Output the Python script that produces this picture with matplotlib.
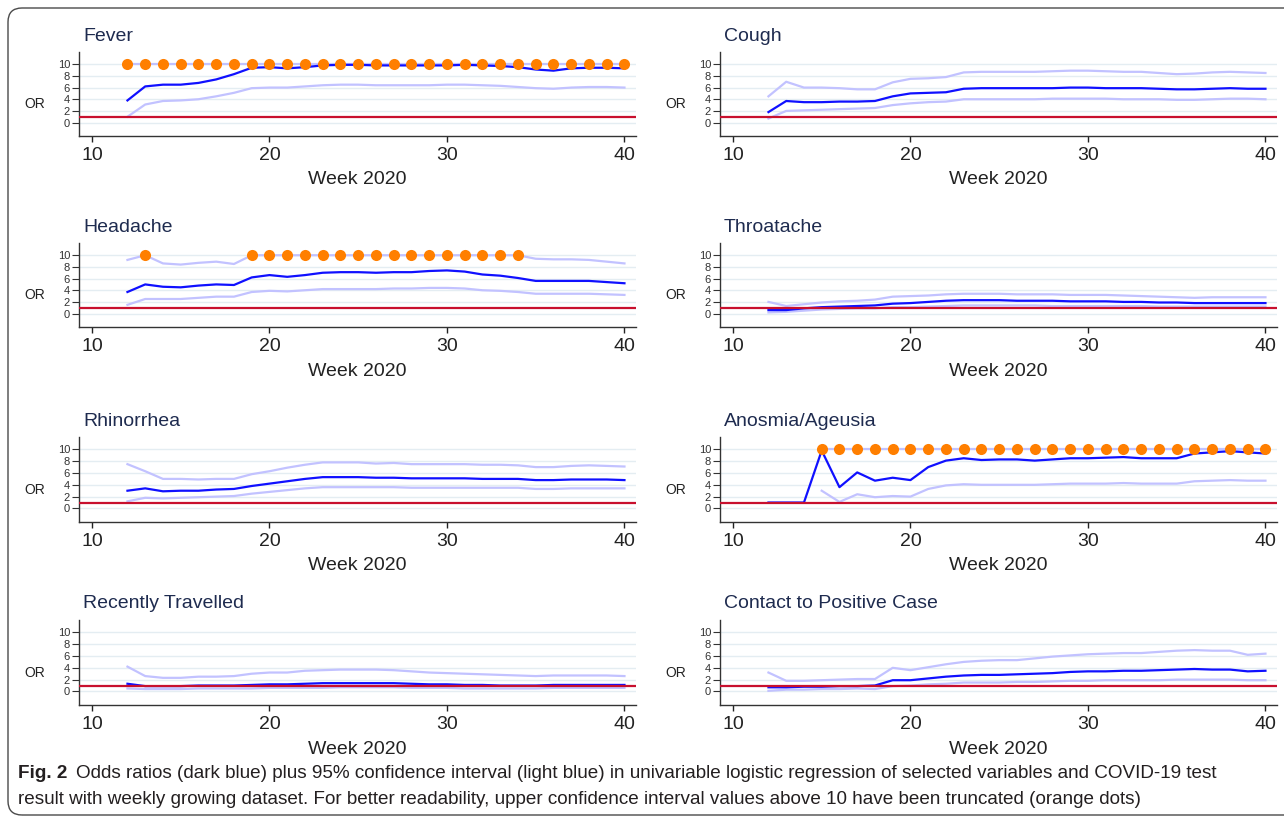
import numpy as np
import matplotlib
matplotlib.use("Agg")
import matplotlib.pyplot as plt
from matplotlib.patches import FancyBboxPatch

plt.rcParams["font.family"] = ["Liberation Sans", "DejaVu Sans"]

# ---------------------------
# data, weeks 12..40
# ---------------------------
weeks = list(range(12, 41))

fever_or = [3.8, 6.2, 6.5, 6.5, 6.8, 7.4, 8.3, 9.4, 9.5, 9.3, 9.5, 9.8, 9.9, 9.9, 9.8,
            9.8, 9.8, 9.8, 9.8, 9.9, 9.8, 9.7, 9.5, 9.1, 8.9, 9.3, 9.4, 9.4, 9.3]
fever_lo = [1.0, 3.1, 3.7, 3.8, 4.0, 4.5, 5.1, 5.9, 6.0, 6.0, 6.2, 6.4, 6.5, 6.5, 6.4,
            6.4, 6.4, 6.4, 6.5, 6.5, 6.4, 6.3, 6.1, 5.9, 5.8, 6.0, 6.1, 6.1, 6.0]
fever_hi = [10.0] * 29
fever_trunc = list(range(12, 41))

cough_or = [1.8, 3.7, 3.5, 3.5, 3.6, 3.6, 3.7, 4.5, 5.0, 5.1, 5.2, 5.8, 5.9, 5.9, 5.9,
            5.9, 5.9, 6.0, 6.0, 5.9, 5.9, 5.9, 5.8, 5.7, 5.7, 5.8, 5.9, 5.8, 5.8]
cough_lo = [0.7, 2.0, 2.1, 2.2, 2.3, 2.4, 2.5, 3.0, 3.3, 3.5, 3.6, 4.0, 4.0, 4.0, 4.0,
            4.0, 4.1, 4.1, 4.1, 4.1, 4.0, 4.0, 4.0, 3.9, 3.9, 4.0, 4.1, 4.1, 4.0]
cough_hi = [4.5, 7.0, 6.0, 6.0, 5.9, 5.7, 5.7, 6.9, 7.5, 7.6, 7.8, 8.6, 8.7, 8.7, 8.7,
            8.7, 8.8, 8.9, 8.9, 8.8, 8.7, 8.7, 8.5, 8.3, 8.4, 8.6, 8.7, 8.6, 8.5]
cough_trunc = []

headache_or = [3.7, 5.0, 4.6, 4.5, 4.8, 5.0, 4.9, 6.2, 6.6, 6.3, 6.6, 7.0, 7.1, 7.1, 7.0,
               7.1, 7.1, 7.3, 7.4, 7.2, 6.7, 6.5, 6.1, 5.6, 5.6, 5.6, 5.6, 5.4, 5.2]
headache_lo = [1.5, 2.5, 2.5, 2.5, 2.7, 2.9, 2.9, 3.7, 3.9, 3.8, 4.0, 4.2, 4.2, 4.2, 4.2,
               4.3, 4.3, 4.4, 4.4, 4.3, 4.0, 3.9, 3.7, 3.4, 3.4, 3.4, 3.4, 3.3, 3.2]
headache_hi = [9.2, 10.0, 8.6, 8.4, 8.7, 8.9, 8.5, 10.0, 10.0, 10.0, 10.0, 10.0, 10.0, 10.0, 10.0,
               10.0, 10.0, 10.0, 10.0, 10.0, 10.0, 10.0, 10.0, 9.4, 9.3, 9.3, 9.2, 8.9, 8.6]
headache_trunc = [13] + list(range(19, 35))

throat_or = [0.6, 0.6, 0.9, 1.1, 1.2, 1.3, 1.4, 1.7, 1.8, 2.0, 2.2, 2.3, 2.3, 2.3, 2.2,
             2.2, 2.2, 2.1, 2.1, 2.1, 2.0, 2.0, 1.9, 1.9, 1.8, 1.8, 1.8, 1.8, 1.8]
throat_lo = [0.2, 0.3, 0.5, 0.7, 0.8, 0.9, 0.9, 1.1, 1.1, 1.2, 1.3, 1.4, 1.4, 1.4, 1.4,
             1.4, 1.3, 1.3, 1.3, 1.3, 1.3, 1.3, 1.2, 1.2, 1.2, 1.2, 1.2, 1.2, 1.2]
throat_hi = [2.0, 1.3, 1.6, 1.9, 2.1, 2.2, 2.4, 2.9, 3.0, 3.1, 3.3, 3.4, 3.4, 3.4, 3.3,
             3.3, 3.3, 3.2, 3.2, 3.2, 3.1, 3.0, 2.9, 2.8, 2.7, 2.8, 2.8, 2.8, 2.8]
throat_trunc = []

rhino_or = [3.0, 3.4, 2.9, 3.0, 3.0, 3.2, 3.3, 3.8, 4.2, 4.6, 5.0, 5.3, 5.3, 5.3, 5.2,
            5.2, 5.1, 5.1, 5.1, 5.1, 5.0, 5.0, 5.0, 4.8, 4.8, 4.9, 4.9, 4.9, 4.8]
rhino_lo = [1.2, 1.8, 1.7, 1.8, 1.9, 2.0, 2.1, 2.5, 2.8, 3.1, 3.4, 3.6, 3.6, 3.6, 3.6,
            3.6, 3.5, 3.5, 3.5, 3.5, 3.5, 3.5, 3.5, 3.3, 3.3, 3.4, 3.4, 3.4, 3.4]
rhino_hi = [7.5, 6.3, 5.0, 5.0, 4.9, 5.0, 5.0, 5.8, 6.3, 6.9, 7.4, 7.8, 7.8, 7.8, 7.6,
            7.7, 7.5, 7.5, 7.5, 7.5, 7.4, 7.4, 7.3, 7.0, 7.0, 7.2, 7.3, 7.2, 7.1]
rhino_trunc = []

anos_or = [1.0, 1.0, 1.0, 9.8, 3.6, 6.1, 4.7, 5.2, 4.8, 7.0, 8.1, 8.5, 8.2, 8.3, 8.3,
           8.1, 8.3, 8.5, 8.5, 8.6, 8.7, 8.5, 8.5, 8.5, 9.3, 9.5, 9.7, 9.5, 9.3]
anos_lo = [np.nan, np.nan, np.nan, 3.0, 1.1, 2.4, 1.9, 2.1, 2.0, 3.3, 3.9, 4.1, 4.0, 4.0, 4.0,
           4.0, 4.1, 4.2, 4.2, 4.2, 4.3, 4.2, 4.2, 4.2, 4.6, 4.7, 4.8, 4.7, 4.7]
anos_hi = [np.nan, np.nan, np.nan] + [10.0] * 26
anos_trunc = list(range(15, 41))

travel_or = [1.3, 0.9, 0.9, 0.9, 1.0, 1.0, 1.0, 1.1, 1.2, 1.2, 1.3, 1.4, 1.4, 1.4, 1.4,
             1.4, 1.3, 1.2, 1.2, 1.1, 1.1, 1.0, 1.0, 1.0, 1.1, 1.1, 1.1, 1.1, 1.1]
travel_lo = [0.5, 0.4, 0.4, 0.4, 0.5, 0.5, 0.5, 0.5, 0.6, 0.6, 0.6, 0.6, 0.7, 0.7, 0.7,
             0.7, 0.6, 0.6, 0.6, 0.5, 0.5, 0.5, 0.5, 0.5, 0.6, 0.6, 0.6, 0.6, 0.6]
travel_hi = [4.2, 2.6, 2.3, 2.3, 2.5, 2.5, 2.6, 3.0, 3.2, 3.2, 3.5, 3.6, 3.7, 3.7, 3.7,
             3.6, 3.4, 3.2, 3.1, 3.0, 2.9, 2.8, 2.7, 2.6, 2.7, 2.7, 2.7, 2.7, 2.6]
travel_trunc = []

contact_or = [0.7, 0.7, 0.8, 0.8, 0.9, 0.9, 1.0, 1.9, 1.9, 2.2, 2.5, 2.7, 2.8, 2.8, 2.9,
              3.0, 3.1, 3.3, 3.4, 3.4, 3.5, 3.5, 3.6, 3.7, 3.8, 3.7, 3.7, 3.4, 3.5]
contact_lo = [0.1, 0.3, 0.3, 0.4, 0.4, 0.5, 0.4, 0.9, 1.0, 1.2, 1.3, 1.5, 1.5, 1.5, 1.6,
              1.6, 1.7, 1.8, 1.8, 1.9, 1.9, 1.9, 1.9, 2.0, 2.0, 2.0, 2.0, 1.9, 1.9]
contact_hi = [3.2, 1.8, 1.8, 1.9, 2.0, 2.1, 2.1, 4.0, 3.6, 4.1, 4.6, 5.0, 5.2, 5.3, 5.3,
              5.6, 5.9, 6.1, 6.3, 6.4, 6.5, 6.5, 6.7, 6.9, 7.0, 6.9, 6.9, 6.2, 6.4]
contact_trunc = []

titles = ["Fever", "Cough", "Headache", "Throatache",
          "Rhinorrhea", "Anosmia/Ageusia", "Recently Travelled", "Contact to Positive Case"]
panels = [
    (fever_or, fever_lo, fever_hi, fever_trunc),
    (cough_or, cough_lo, cough_hi, cough_trunc),
    (headache_or, headache_lo, headache_hi, headache_trunc),
    (throat_or, throat_lo, throat_hi, throat_trunc),
    (rhino_or, rhino_lo, rhino_hi, rhino_trunc),
    (anos_or, anos_lo, anos_hi, anos_trunc),
    (travel_or, travel_lo, travel_hi, travel_trunc),
    (contact_or, contact_lo, contact_hi, contact_trunc),
]

# ---------------------------
# layout (pixels)
# ---------------------------
W, H = 1284, 823
col_left = [79, 720]
col_width = 557
row_top = [52, 243, 437, 620]
row_bot = [136, 327, 522, 705]

C_OR = "#1010ff"
C_CI = "#c2c2ff"
C_RED = "#c8102e"
C_DOT = "#ff7f00"
C_GRID = "#e4edf2"
C_TITLE = "#1e2b4f"

fig = plt.figure(figsize=(W / 100, H / 100), dpi=100)

frame = FancyBboxPatch((8, 8), 1300, 807, boxstyle="round,pad=0,rounding_size=14",
                       transform=None, facecolor="none", edgecolor="#4a4a4a", linewidth=1.0)
fig.patches.append(frame)

for k, (title, (orv, lo, hi, trunc)) in enumerate(zip(titles, panels)):
    r, c = divmod(k, 2)
    h_px = row_bot[r] - row_top[r]
    ax = fig.add_axes([col_left[c] / W, 1 - row_bot[r] / H, col_width / W, h_px / H])

    ax.set_xlim(9.27, 40.65)
    ax.set_ylim(-2.3, 12.1)
    for g in [0, 2, 4, 6, 8, 10]:
        ax.axhline(g, color=C_GRID, lw=1.0, zorder=0)

    ax.plot(weeks, lo, color=C_CI, lw=1.6, zorder=2)
    ax.plot(weeks, hi, color=C_CI, lw=1.6, zorder=2)
    ax.plot(weeks, orv, color=C_OR, lw=1.6, zorder=3)
    ax.axhline(1, color=C_RED, lw=1.6, zorder=4)
    if trunc:
        ax.plot(trunc, [10] * len(trunc), "o", color=C_DOT, ms=8, mec="none", zorder=5)

    for s in ["top", "right"]:
        ax.spines[s].set_visible(False)
    for s in ["left", "bottom"]:
        ax.spines[s].set_color("#333333")
        ax.spines[s].set_linewidth(1.0)

    ax.set_xticks([10, 20, 30, 40])
    ax.set_yticks([0, 2, 4, 6, 8, 10])
    ax.tick_params(axis="x", labelsize=14, length=4, width=1, pad=4, colors="#222222")
    ax.tick_params(axis="y", labelsize=8, length=5, width=0.8, pad=1.5, colors="#333333")

    ax.text(0.007, 1 + 16 / h_px, title, transform=ax.transAxes, fontsize=14,
            color=C_TITLE, ha="left", va="center")
    ax.text(-0.08, (12.1 - 6.6) / 14.4, "OR", transform=ax.transAxes, fontsize=10,
            color="#222222", ha="center", va="center")
    ax.text(0.5, -44 / h_px, "Week 2020", transform=ax.transAxes, fontsize=14,
            color="#222222", ha="center", va="center")

# ---------------------------
# caption
# ---------------------------
cap_size = 13.6
fig.text(18 / W, 1 - 774 / H, "Fig. 2", fontsize=cap_size, fontweight="bold",
         color="#231f20", ha="left", va="center")
fig.text(76 / W, 1 - 774 / H,
         "Odds ratios (dark blue) plus 95% confidence interval (light blue) in univariable "
         "logistic regression of selected variables and COVID-19 test",
         fontsize=cap_size, color="#231f20", ha="left", va="center")
fig.text(18 / W, 1 - 800 / H,
         "result with weekly growing dataset. For better readability, upper confidence "
         "interval values above 10 have been truncated (orange dots)",
         fontsize=cap_size, color="#231f20", ha="left", va="center")

fig.savefig("out.png", dpi=100)
